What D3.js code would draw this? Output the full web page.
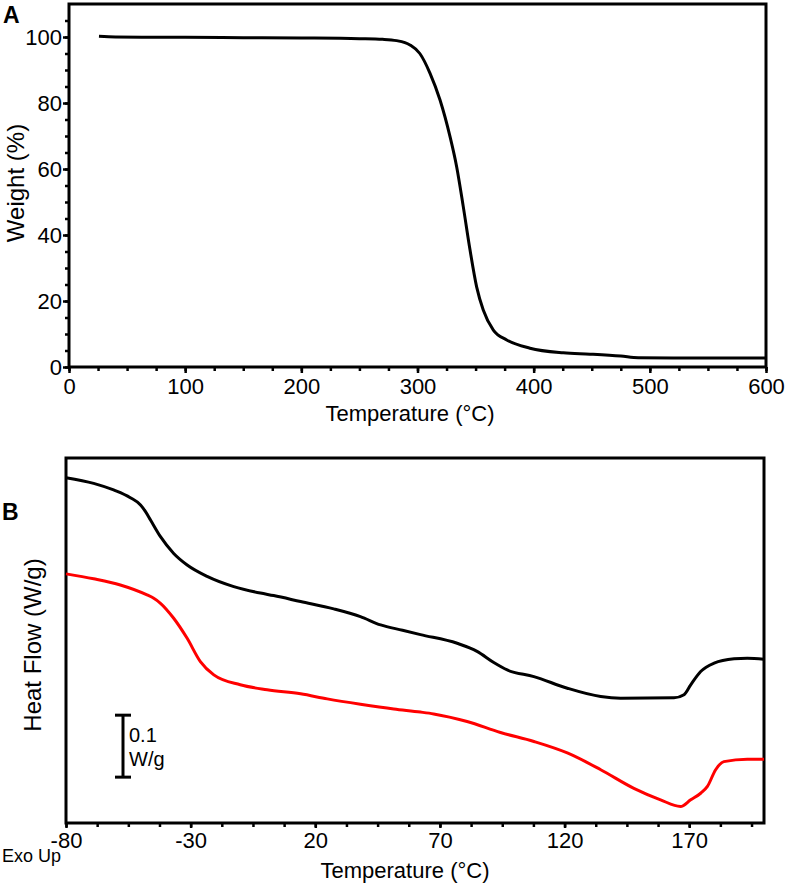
<!DOCTYPE html>
<html><head><meta charset="utf-8">
<script src="https://cdn.jsdelivr.net/npm/d3@7"></script>
<style>
body{margin:0;background:#fff}
text{font-family:"Liberation Sans",Arial,sans-serif;fill:#000}
</style>
</head><body>
<svg id="c" width="791" height="888"></svg>
<script>
// ---------- Panel A: TGA ----------
const tgaTemp   = [25.8, 40, 100, 150, 200, 250, 270, 282, 293.5, 302, 310.8, 319.4, 328, 333.7, 339.4, 345.2, 350.9, 356.6, 365.3, 376.8, 396.8, 425.5, 448.5, 475, 490, 520, 600];
const tgaWeight = [100.2, 100.0, 99.9, 99.8, 99.7, 99.5, 99.3, 98.9, 97.6, 95.0, 89.0, 80.9, 69.8, 60.7, 48.6, 35.5, 24.3, 17.3, 11.2, 8.2, 5.7, 4.3, 3.9, 3.3, 2.8, 2.7, 2.7];
const tgaXTicks = [0, 100, 200, 300, 400, 500, 600];
const tgaYTicks = [0, 20, 40, 60, 80, 100];

// ---------- Panel B: DSC ----------
const dscTempBlack = [-80, -68.9, -60.9, -54.2, -50.1, -48.1, -46.1, -42.1, -36.8, -31.4, -23.4, -12.7, -2, 3.3, 14.1, 27.4, 38.1, 46.2, 55, 62.2, 76.9, 84.9, 91.6, 97, 107.7, 121.1, 134.5, 142.5, 163.9, 167.9, 170.6, 174.6, 180, 188, 193.3, 200];
const dscFlowBlack = [-0.0317, -0.0409, -0.0516, -0.064, -0.0758, -0.0866, -0.100, -0.127, -0.154, -0.1726, -0.191, -0.2075, -0.218, -0.222, -0.2317, -0.2435, -0.256, -0.2694, -0.278, -0.285, -0.299, -0.312, -0.330, -0.342, -0.3527, -0.3715, -0.385, -0.3876, -0.387, -0.382, -0.366, -0.3446, -0.331, -0.324, -0.323, -0.3247];
const dscTempRed = [-80, -68.9, -58.2, -47.5, -44.8, -42.1, -36.8, -31.4, -26.1, -20.7, -10.1, 0.7, 14.1, 24.8, 38.1, 51.5, 62.2, 67.5, 80.9, 94.3, 107.7, 121.1, 134.5, 147.8, 158.5, 166.5, 170.6, 174.6, 177.3, 180.6, 183.9, 193.3, 200];
const dscFlowRed = [-0.187, -0.195, -0.205, -0.221, -0.2263, -0.2344, -0.2586, -0.291, -0.3285, -0.350, -0.366, -0.374, -0.3806, -0.3887, -0.3973, -0.405, -0.410, -0.413, -0.4253, -0.443, -0.4575, -0.476, -0.503, -0.533, -0.5516, -0.5624, -0.5516, -0.541, -0.530, -0.503, -0.490, -0.486, -0.486];
const dscXTicks = [-80, -30, 20, 70, 120, 170];
const scaleBarValue = 0.1; // W/g

const svg = d3.select("#c");

// ===== Panel A =====
const xA = d3.scaleLinear().domain([0, 600]).range([69, 766]);
const yA = d3.scaleLinear().domain([0, 110]).range([367, 4]);

const gA = svg.append("g");
gA.append("g").attr("transform", `translate(0,${yA(0)})`)
  .call(d3.axisBottom(xA).tickValues(d3.range(0, 601, 25)).tickSize(4).tickFormat(""))
  .call(g => { g.select(".domain").remove(); g.selectAll("line").attr("stroke-width", 2.5); });
gA.append("g").attr("transform", `translate(${xA(0)},0)`)
  .call(d3.axisLeft(yA).tickValues(d3.range(0, 106, 5)).tickSize(4).tickFormat(""))
  .call(g => { g.select(".domain").remove(); g.selectAll("line").attr("stroke-width", 2.5); });
gA.append("g").attr("transform", `translate(0,${yA(0)})`)
  .call(d3.axisBottom(xA).tickValues(tgaXTicks).tickSize(6).tickPadding(5.5).tickFormat(d3.format("d")))
  .call(g => { g.select(".domain").remove(); g.selectAll("line").attr("stroke-width", 2.5);
               g.selectAll("text").style("font-size", "22px").attr("fill", "#000"); });
gA.append("g").attr("transform", `translate(${xA(0)},0)`)
  .call(d3.axisLeft(yA).tickValues(tgaYTicks).tickSize(6).tickPadding(1).tickFormat(d3.format("d")))
  .call(g => { g.select(".domain").remove(); g.selectAll("line").attr("stroke-width", 2.5);
               g.selectAll("text").style("font-size", "22px").attr("fill", "#000"); });
gA.append("rect").attr("x", xA(0)).attr("y", yA(110))
  .attr("width", xA(600) - xA(0)).attr("height", yA(0) - yA(110))
  .attr("fill", "none").attr("stroke", "#000").attr("stroke-width", 3);
const tgaData = tgaTemp.map((t, i) => ({t, w: tgaWeight[i]}));
gA.append("path").datum(tgaData)
  .attr("d", d3.line().x(d => xA(d.t)).y(d => yA(d.w)).curve(d3.curveMonotoneX))
  .attr("fill", "none").attr("stroke", "#000").attr("stroke-width", 3);
svg.append("text").attr("x", 410).attr("y", 421).attr("text-anchor", "middle")
  .style("font-size", "22px").text("Temperature (°C)");
svg.append("text").attr("transform", "translate(24,183) rotate(-90)").attr("text-anchor", "middle")
  .style("font-size", "24px").text("Weight (%)");
svg.append("text").attr("x", 3).attr("y", 23).style("font-size", "23px").style("font-weight", "bold").text("A");

// ===== Panel B =====
const xB = d3.scaleLinear().domain([-80, 200]).range([66, 764]);
const yB = d3.scaleLinear().domain([-0.589, 0]).range([823, 458]);

const gB = svg.append("g");
gB.append("g").attr("transform", `translate(0,${yB(-0.589)})`)
  .call(d3.axisBottom(xB).tickValues(d3.range(-80, 200, 12.5)).tickSize(4).tickFormat(""))
  .call(g => { g.select(".domain").remove(); g.selectAll("line").attr("stroke-width", 2.5); });
gB.append("g").attr("transform", `translate(0,${yB(-0.589)})`)
  .call(d3.axisBottom(xB).tickValues(dscXTicks).tickSize(5).tickPadding(4).tickFormat(d => String(d)))
  .call(g => { g.select(".domain").remove(); g.selectAll("line").attr("stroke-width", 2.5);
               g.selectAll("text").style("font-size", "22px").attr("fill", "#000"); });
gB.append("rect").attr("x", xB(-80)).attr("y", yB(0))
  .attr("width", xB(200) - xB(-80)).attr("height", yB(-0.589) - yB(0))
  .attr("fill", "none").attr("stroke", "#000").attr("stroke-width", 3);

const lineB = d3.line().x(d => xB(d.t)).y(d => yB(d.v)).curve(d3.curveMonotoneX);
gB.append("path").datum(dscTempBlack.map((t, i) => ({t, v: dscFlowBlack[i]})))
  .attr("d", lineB).attr("fill", "none").attr("stroke", "#000").attr("stroke-width", 3);
gB.append("path").datum(dscTempRed.map((t, i) => ({t, v: dscFlowRed[i]})))
  .attr("d", lineB).attr("fill", "none").attr("stroke", "#ff0000").attr("stroke-width", 3);

const sbTop = -0.415, sbX = 123;
const sb = gB.append("g").attr("stroke", "#000").attr("stroke-width", 3);
sb.append("line").attr("x1", sbX).attr("x2", sbX).attr("y1", yB(sbTop)).attr("y2", yB(sbTop - scaleBarValue));
sb.append("line").attr("x1", sbX - 8).attr("x2", sbX + 8).attr("y1", yB(sbTop)).attr("y2", yB(sbTop));
sb.append("line").attr("x1", sbX - 8).attr("x2", sbX + 8).attr("y1", yB(sbTop - scaleBarValue)).attr("y2", yB(sbTop - scaleBarValue));
svg.append("text").attr("x", 129).attr("y", 742).style("font-size", "20px").text(String(scaleBarValue));
svg.append("text").attr("x", 129).attr("y", 766).style("font-size", "20px").text("W/g");

svg.append("text").attr("x", 405).attr("y", 878).attr("text-anchor", "middle")
  .style("font-size", "22px").text("Temperature (°C)");
svg.append("text").attr("transform", "translate(41,645) rotate(-90)").attr("text-anchor", "middle")
  .style("font-size", "24px").text("Heat Flow (W/g)");
svg.append("text").attr("x", 2).attr("y", 862).style("font-size", "18px").text("Exo Up");
svg.append("text").attr("x", 2).attr("y", 520).style("font-size", "23px").style("font-weight", "bold").text("B");
</script>
</body></html>
